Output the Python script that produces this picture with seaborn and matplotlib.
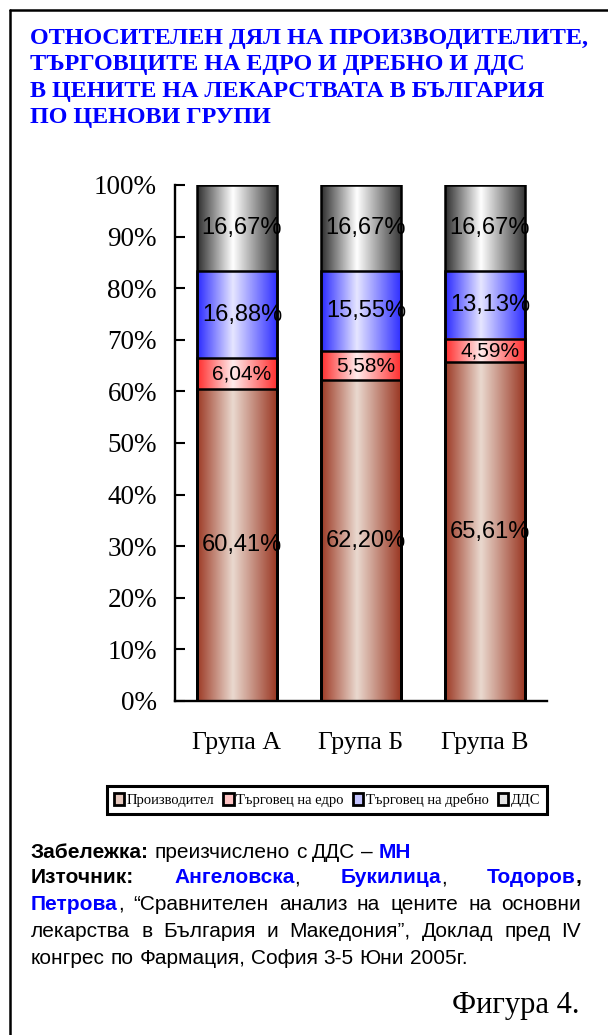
import numpy as np
import pandas as pd
import seaborn as sns
import matplotlib.pyplot as plt
from matplotlib.colors import LinearSegmentedColormap
from matplotlib.patches import Patch
from matplotlib.lines import Line2D

# data
groups = ['Група А', 'Група Б', 'Група В']
series = ['Производител', 'Търговец на едро', 'Търговец на дребно', 'ДДС']
producer = [60.41, 62.20, 65.61]
wholesale = [6.04, 5.58, 4.59]
retail = [16.88, 15.55, 13.13]
vat = [16.67, 16.67, 16.67]
yticks = list(range(0, 101, 10))

title_lines = ['ОТНОСИТЕЛЕН ДЯЛ НА ПРОИЗВОДИТЕЛИТЕ,',
               'ТЪРГОВЦИТЕ НА ЕДРО И ДРЕБНО И ДДС',
               'В ЦЕНИТЕ НА ЛЕКАРСТВАТА В БЪЛГАРИЯ',
               'ПО ЦЕНОВИ ГРУПИ']

# cylinder-like shading: left edge, middle, right edge
grad_colors = {
    'Производител': ['#9c3a25', '#ead9cf', '#9a3824'],
    'Търговец на едро': ['#ff2d2d', '#ffecec', '#ff3030'],
    'Търговец на дребно': ['#2a2aff', '#e6e6ff', '#3030ff'],
    'ДДС': ['#2e2e2e', '#ffffff', '#383838'],
}
legend_fill = {
    'Производител': '#e6c8bd',
    'Търговец на едро': '#ffc4c4',
    'Търговец на дребно': '#c4c4ff',
    'ДДС': '#e4e4e4',
}

sns.set_style('white')
plt.rcParams['font.family'] = ['Liberation Serif', 'DejaVu Serif']
plt.rcParams['text.color'] = 'black'

W, H = 608, 1035
fig = plt.figure(figsize=(W / 100, H / 100), dpi=100)
ax = fig.add_axes([175 / W, 1 - 701 / H, 372 / W, 516 / H])

df = pd.DataFrame({'group': groups, 'Производител': producer,
                   'Търговец на едро': wholesale,
                   'Търговец на дребно': retail, 'ДДС': vat})
tops = df[series].cumsum(axis=1)
bottoms = tops - df[series]

# stacked bars: draw cumulative heights, tallest first
for z, name in enumerate(reversed(series)):
    n0 = len(ax.patches)
    sns.barplot(data=tops.assign(group=groups), x='group', y=name,
                color='white', width=0.645, ax=ax)
    cmap = LinearSegmentedColormap.from_list(
        name, list(zip([0, 0.45, 1], grad_colors[name])))
    img = cmap(np.linspace(0, 1, 200))[None, :, :]
    for p in ax.patches[n0:]:
        x0, w, h = p.get_x(), p.get_width(), p.get_height()
        ax.imshow(img, extent=(x0, x0 + w, 0, h), aspect='auto',
                  interpolation='bilinear', zorder=1 + z * 0.1)
        p.set_facecolor('none')
        p.set_edgecolor('black')
        p.set_linewidth(1.8)
        p.set_zorder(5)

ax.set_xlim(-0.5, 2.5)
ax.set_ylim(0, 100)
ax.set_xlabel('')
ax.set_ylabel('')

# value labels in the middle of each segment
for name in series:
    fs = 15 if name == 'Търговец на едро' else 17
    for i in range(len(groups)):
        v = df[name][i]
        ax.text(i + 0.04, bottoms[name][i] + v / 2,
                f'{v:.2f}'.replace('.', ',') + '%',
                ha='center', va='center', fontsize=fs, color='black',
                family='Liberation Sans', zorder=6)

ax.set_yticks(yticks)
ax.set_yticklabels([f'{t}%' for t in yticks])
ax.tick_params(axis='y', direction='in', length=7, width=1.5, pad=13,
               labelsize=19.5, colors='black', left=True)
ax.tick_params(axis='x', length=0, pad=22, labelsize=18.5, colors='black')
sns.despine(ax=ax)
for s in ['left', 'bottom']:
    ax.spines[s].set_color('black')
    ax.spines[s].set_linewidth(1.7)
    ax.spines[s].set_zorder(7)

# legend
handles = [Patch(facecolor=legend_fill[s], edgecolor='black', linewidth=2)
           for s in series]
leg = fig.legend(handles, series, loc='center',
                 bbox_to_anchor=(327 / W, 1 - 800 / H), ncol=4,
                 frameon=True, fancybox=False, edgecolor='black',
                 framealpha=1, fontsize=10.5, handlelength=0.7,
                 handleheight=0.8, handletextpad=0.2, columnspacing=0.6,
                 borderpad=0.45)
leg.get_frame().set_linewidth(2.2)

# frame around the page
fig.add_artist(Line2D([10 / W, 10 / W], [0, 1 - 10 / H], color='black',
                      lw=1.8, transform=fig.transFigure))
fig.add_artist(Line2D([10 / W, 1], [1 - 10 / H, 1 - 10 / H], color='black',
                      lw=1.8, transform=fig.transFigure))

# title
for txt, base in zip(title_lines, [44, 70, 97, 123]):
    fig.text(30 / W, 1 - base / H, txt, color='#0000ff', fontsize=17.4,
             weight='bold', va='baseline', ha='left')

# note block, partly justified
renderer = fig.canvas.get_renderer()
NOTE_FS = 15
BLUE = '#0000ff'


def text_width(txt, weight):
    t = fig.text(0, 0, txt, fontsize=NOTE_FS, family='Liberation Sans',
                 weight=weight)
    w = t.get_window_extent(renderer).width
    t.remove()
    return w


space_w = text_width('x x', 'normal') - text_width('xx', 'normal')


def plain(s):
    return [[(w, 'normal', 'black')] for w in s.split()]


note_lines = [
    ([[('Забележка:', 'bold', 'black')]] + plain('преизчислено с ДДС –')
     + [[('МН', 'bold', BLUE)]], False, 858),
    ([[('Източник:', 'bold', 'black')],
      [('Ангеловска', 'bold', BLUE), (',', 'normal', 'black')],
      [('Букилица', 'bold', BLUE), (',', 'normal', 'black')],
      [('Тодоров', 'bold', BLUE), (',', 'bold', 'black')]], True, 883),
    ([[('Петрова', 'bold', BLUE), (',', 'normal', 'black')]]
     + plain('“Сравнителен анализ на цените на основни'), True, 910),
    (plain('лекарства в България и Македония”, Доклад пред IV'), True, 937),
    (plain('конгрес по Фармация, София 3-5 Юни 2005г.'), False, 964),
]

left, right = 31, 581
for words, justify, base in note_lines:
    widths = [[text_width(t, wt) for t, wt, c in word] for word in words]
    total = sum(sum(w) for w in widths)
    gap = (right - left - total) / (len(words) - 1) if justify else space_w
    x = left
    for word, ws in zip(words, widths):
        for (t, wt, c), w in zip(word, ws):
            fig.text(x / W, 1 - base / H, t, fontsize=NOTE_FS,
                     family='Liberation Sans', weight=wt, color=c,
                     va='baseline', ha='left')
            x += w
        x += gap

fig.text(580 / W, 1 - 1013 / H, 'Фигура 4.', fontsize=22, ha='right',
         va='baseline', color='black')

fig.savefig('out.png', dpi=100)
